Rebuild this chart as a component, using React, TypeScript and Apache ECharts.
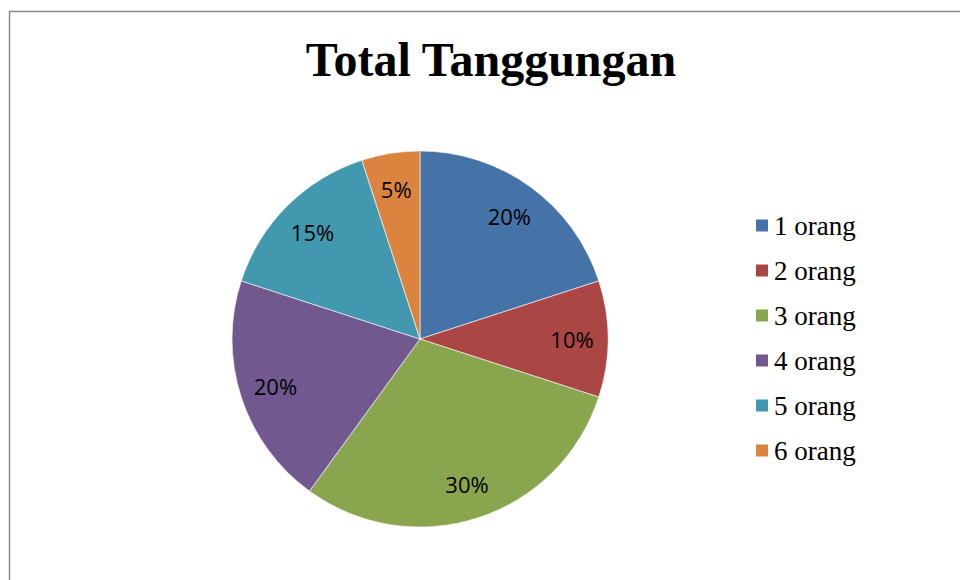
import React, { useEffect, useRef } from "react";
import * as echarts from "echarts";

const categories = ["1 orang", "2 orang", "3 orang", "4 orang", "5 orang", "6 orang"];
const values = [20, 10, 30, 20, 15, 5];
const colors = ["#4572A7", "#AA4643", "#89A54E", "#71588F", "#4198AF", "#DB843D"];
const titleText = "Total Tanggungan";

export default function App() {
  const ref = useRef<HTMLDivElement>(null);
  useEffect(() => {
    if (!ref.current) return;
    const chart = echarts.init(ref.current, null, { renderer: "svg" });
    const data = categories.map((name, i) => ({ name, value: values[i] }));
    chart.setOption({
      animation: false,
      color: colors,
      title: {
        text: titleText,
        left: 486,
        top: 30,
        textAlign: "center",
        textStyle: {
          fontFamily: "Liberation Serif",
          fontWeight: "bold",
          fontSize: 48,
          color: "#000",
        },
      },
      legend: {
        orient: "vertical",
        left: 749,
        top: 207,
        icon: "rect",
        itemWidth: 14,
        itemHeight: 14,
        itemGap: 18,
        data: categories,
        textStyle: {
          fontFamily: "Liberation Serif",
          fontSize: 27,
          lineHeight: 27,
          color: "#000",
        },
      },
      graphic: [
        {
          type: "rect",
          shape: { x: 9.5, y: 11.5, width: 1000, height: 1000 },
          style: { fill: "none", stroke: "#8a8a8a", lineWidth: 1.5 },
          silent: true,
        },
      ],
      series: [
        {
          type: "pie",
          center: [420, 339],
          radius: [0, 188],
          startAngle: 90,
          clockwise: true,
          data,
          label: { show: false },
          labelLine: { show: false },
          itemStyle: { borderColor: "#ffffff", borderWidth: 0.6 },
          emphasis: { disabled: true },
        },
        {
          type: "pie",
          center: [420, 339],
          radius: [110, 188],
          startAngle: 90,
          clockwise: true,
          silent: true,
          data,
          itemStyle: { color: "rgba(0,0,0,0)", borderWidth: 0 },
          label: {
            show: true,
            position: "inside",
            formatter: (p: any) => `${p.value}%`,
            fontFamily: "Open Sans",
            fontSize: 22,
            color: "#000",
          },
          labelLine: { show: false },
          emphasis: { disabled: true },
        },
      ],
    });
    return () => chart.dispose();
  }, []);
  return (
    <div
      ref={ref}
      style={{ position: "fixed", left: 0, top: 0, width: 960, height: 580, background: "#fff" }}
    />
  );
}
